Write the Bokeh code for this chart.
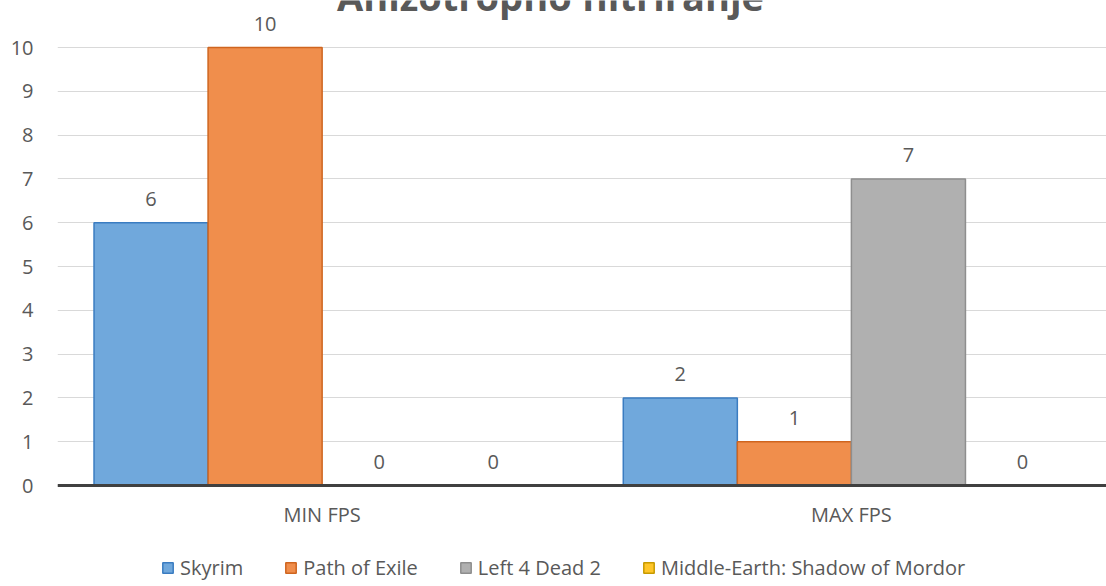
from bokeh.plotting import figure
from bokeh.models import (ColumnDataSource, Range1d, FixedTicker, LabelSet, Label,
                          Legend, LegendItem, Span)
from bokeh.embed import file_html
from bokeh.resources import INLINE
from bokeh.core.properties import value

# ---- data ----
categories = ["MIN FPS", "MAX FPS"]
games = ["Skyrim", "Path of Exile", "Left 4 Dead 2", "Middle-Earth: Shadow of Mordor"]
skyrim = [6, 2]
path_of_exile = [10, 1]
left_4_dead_2 = [0, 7]
middle_earth = [0, 0]
title_text = "Anizotropno filtriranje"
y_ticks = [0, 1, 2, 3, 4, 5, 6, 7, 8, 9, 10]

series = [skyrim, path_of_exile, left_4_dead_2, middle_earth]
fills = ["#70A8DC", "#F08E4C", "#B0B0B0", "#FFC629"]
lines = ["#3A7CC1", "#CF651F", "#8E8E8E", "#C79A00"]
bar_w = 0.2155
offsets = [-1.5 * bar_w, -0.5 * bar_w, 0.5 * bar_w, 1.5 * bar_w]

FONT = "Open Sans"
TXT = "#595959"
FS = "20px"
PX_PER_UNIT = 43.8  # 10 units span 438 px, zero line 101 px above the canvas bottom

# the frame covers the whole canvas height; the category axis is drawn at y = 0
p = figure(width=1106, height=586, output_backend="svg", toolbar_location=None,
           x_range=Range1d(-0.5, 1.482),
           y_range=Range1d(-101 / PX_PER_UNIT, 485 / PX_PER_UNIT),
           x_axis_location=None, title=None)
p.min_border_left = 57
p.min_border_right = 0
p.min_border_top = 0
p.min_border_bottom = 0
p.outline_line_color = None
p.background_fill_color = "white"
p.border_fill_color = "white"

p.xgrid.grid_line_color = None
p.ygrid.grid_line_color = "#D9D9D9"
p.ygrid.grid_line_width = 1
p.ygrid.ticker = FixedTicker(ticks=y_ticks)

items = []
for i, (name, vals) in enumerate(zip(games, series)):
    xs = [k + offsets[i] for k in range(len(categories))]
    src = ColumnDataSource(dict(x=xs, top=vals, lab=[str(v) for v in vals]))
    r = p.vbar(x="x", top="top", bottom=0, width=bar_w, source=src,
               fill_color=fills[i], line_color=lines[i], line_width=1.5)
    items.append(LegendItem(label=name, renderers=[r]))
    p.add_layout(LabelSet(x="x", y="top", text="lab", source=src, text_align="center",
                          text_baseline="middle", y_offset=24, text_font=value(FONT),
                          text_font_size=FS, text_color=TXT))

# category axis line and labels at y = 0
p.add_layout(Span(location=0, dimension="width", line_color="#404040", line_width=3))
cat_src = ColumnDataSource(dict(x=list(range(len(categories))),
                                y=[0] * len(categories), t=categories))
p.add_layout(LabelSet(x="x", y="y", text="t", source=cat_src, text_align="center",
                      text_baseline="middle", y_offset=-29, text_font=value(FONT),
                      text_font_size=FS, text_color=TXT))

# value axis
p.yaxis.ticker = FixedTicker(ticks=y_ticks)
p.yaxis.axis_line_color = None
p.yaxis.major_tick_line_color = None
p.yaxis.major_tick_out = 0
p.yaxis.major_tick_in = 0
p.yaxis.minor_tick_line_color = None
p.yaxis.major_label_standoff = 24
p.yaxis.major_label_text_font = FONT
p.yaxis.major_label_text_font_size = FS
p.yaxis.major_label_text_color = TXT

# legend at the bottom
legend = Legend(items=items, orientation="horizontal", location=(104, 5),
                glyph_width=13, glyph_height=13, label_standoff=6, spacing=41,
                padding=0, margin=0, border_line_color=None,
                background_fill_alpha=0, label_text_font=FONT,
                label_text_font_size=FS, label_text_color=TXT)
p.add_layout(legend, "center")

# title (cropped at the top as in the reference)
p.add_layout(Label(x=493, y=586 + 5, x_units="screen", y_units="screen",
                   text=title_text, text_align="center", text_baseline="alphabetic",
                   text_font=FONT, text_font_style="bold",
                   text_font_size="38px", text_color=TXT))

open("out.html", "w").write(file_html(p, INLINE))
